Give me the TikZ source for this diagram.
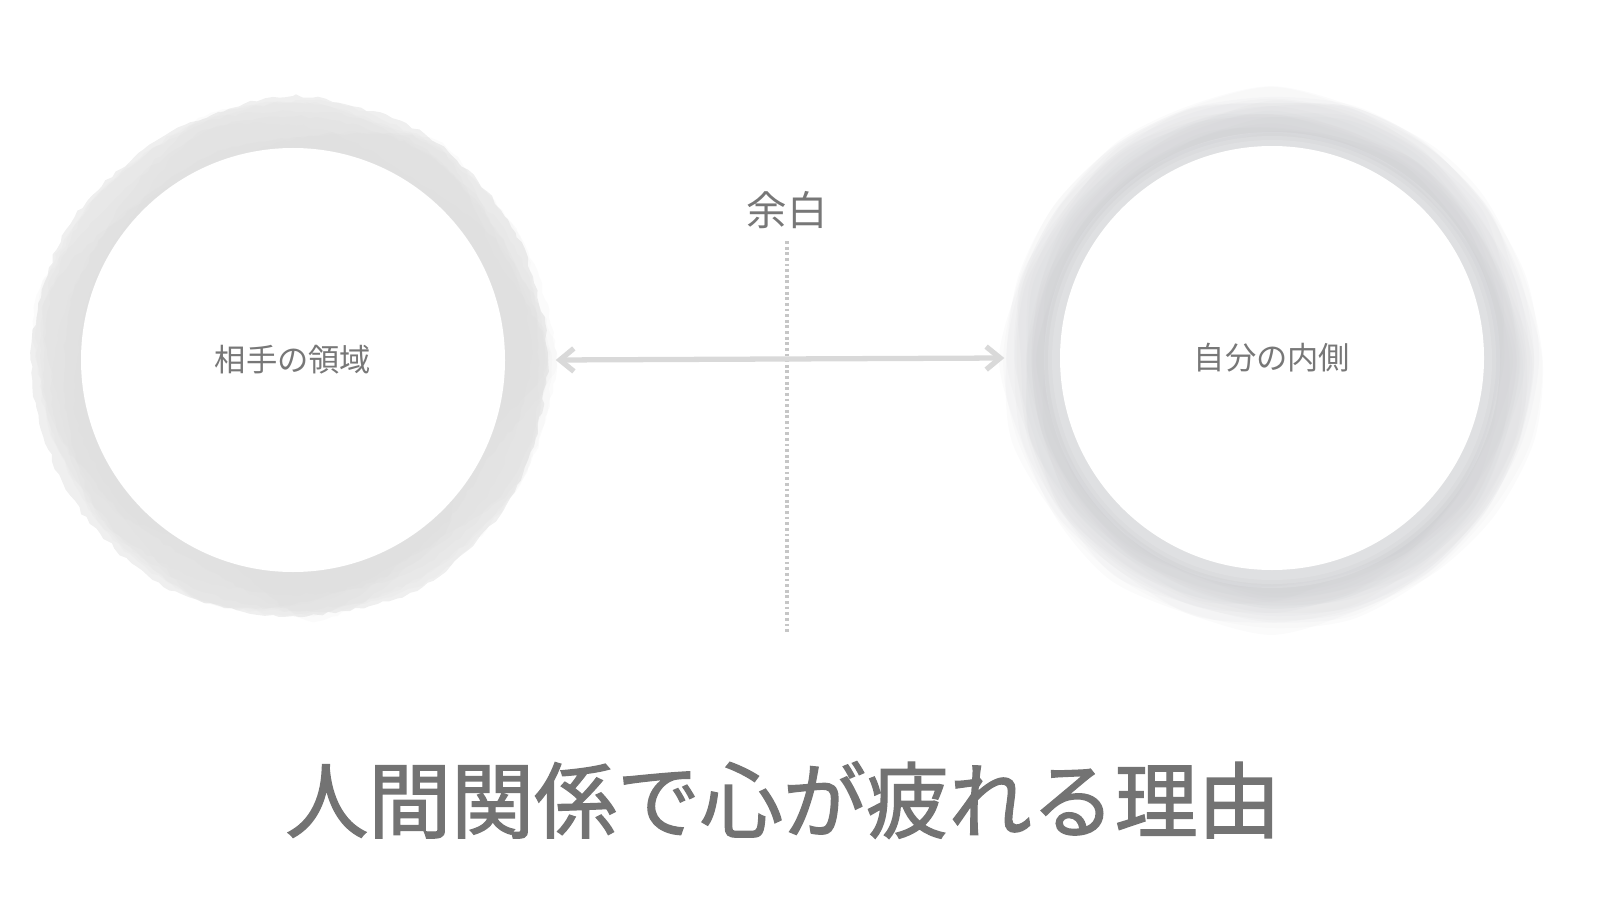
\documentclass[tikz,border=0pt]{standalone}
\usepackage{fontspec}
\setmainfont{Noto Sans CJK JP}
\newfontfamily\titlefont[FakeBold=1.6]{Noto Sans CJK JP}
\usetikzlibrary{arrows.meta}
\usetikzlibrary{decorations.pathmorphing}

\definecolor{labelgray}{HTML}{777777}
\definecolor{titlegray}{HTML}{737373}
\definecolor{gapgray}{HTML}{D9D9D9}
\definecolor{dotgray}{HTML}{C6C6C6}
\definecolor{washgray}{HTML}{D0D0D0}
\definecolor{mistgray}{HTML}{BEBFC3}

\tikzset{
  area/.style={circle, fill=white, minimum size=4.24cm, inner sep=0pt, text=labelgray, font=\fontsize{8.9}{10}\selectfont},
  wash/.style={fill=washgray, decorate, decoration={random steps, segment length=2pt, amplitude=0.5pt}},
  mist/.style={fill=mistgray, opacity=0.06},
  gaparrow/.style={draw=gapgray, line width=1.5pt, line cap=round, {Straight Barb[length=1.4mm, width=2.3mm]}-{Straight Barb[length=1.4mm, width=2.3mm]}},
  gapline/.style={draw=dotgray, line width=0.9pt, dash pattern=on 0.8pt off 0.8pt},
}

\begin{document}
\begin{tikzpicture}
                \useasboundingbox (0,0) rectangle (16,9);
                \pgfmathsetseed{5}
                \begin{scope}[shift={(2.93,5.40)}]
                    \fill[wash, opacity=0.35] plot[smooth cycle, samples=12, domain=0:330] (\x:{2.54+0.12*rnd});
                    \foreach \k in {1,...,8}
                        \fill[wash, opacity=0.08] plot[smooth cycle, samples=13, domain=0:332] (\x:{2.55-0.035*\k+0.08*\k*(rnd-0.5)+0.1*rnd});
                \end{scope}
                \begin{scope}[shift={(12.72,5.40)}]
                    \foreach \k in {0,...,19}
                        \fill[mist] plot[smooth cycle, samples=20, domain=0:342] (\x:{2.62-0.022*\k+0.14*rnd});
                    \foreach \k in {0,...,2}
                        \fill[white, opacity=0.12] (0,0) circle[radius=2.20cm+0.04cm*\k];
                \end{scope}
                \node[area] (other) at (2.93, 5.40) {相手の領域};
                \node[area] (self) at (12.72, 5.42) {自分の内側};
                \node[text=labelgray, font=\fontsize{11.5}{13}\selectfont] (gap) at (7.87, 6.90) {余白};
                \coordinate (gapend) at (7.87, 2.68);
                \draw[gapline] (gap.south) -- (gapend);
                \draw[gaparrow] ([xshift=5mm]other.east) -- ([xshift=-5.5mm]self.west);
                \node[text=titlegray, font=\titlefont\fontsize{23.6}{26}\selectfont] (title) at (7.83, 1.00) {人間関係で心が疲れる理由};
            \end{tikzpicture}
\end{document}
